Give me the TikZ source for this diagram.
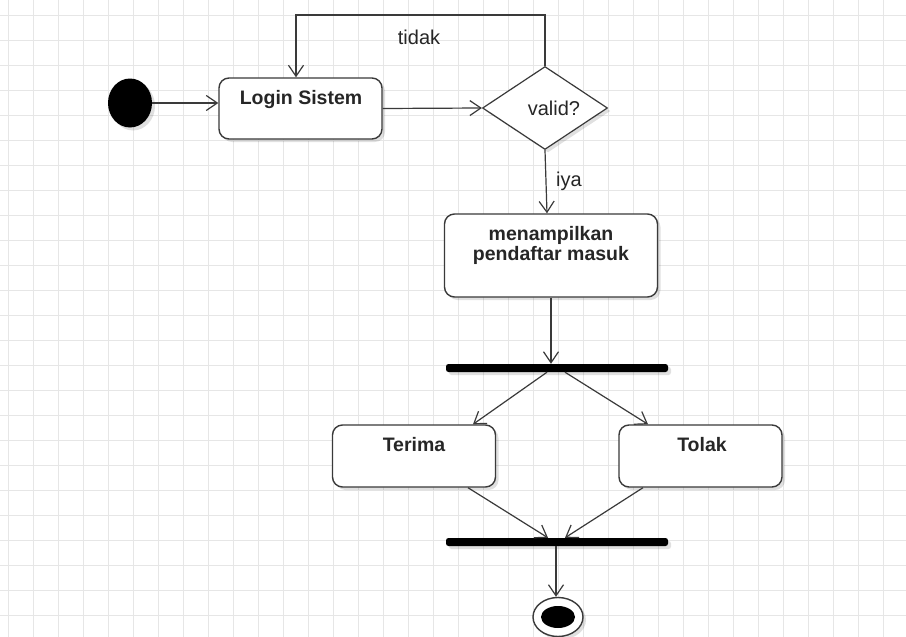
\documentclass[tikz,border=0pt]{standalone}
\usepackage{fontspec}
\setmainfont{Liberation Sans}
\usetikzlibrary{arrows.meta,shapes.geometric,shadows}
\definecolor{gridc}{HTML}{E6E6E6}
\definecolor{linec}{HTML}{3A3A3A}
\definecolor{txtc}{HTML}{262626}
\tikzset{
  gridline/.style={draw=gridc, line width=0.9pt},
  shad/.style={drop shadow={shadow xshift=3pt, shadow yshift=-3pt, fill=black, opacity=0.12}},
  actbox/.style={draw=linec, line width=1.4pt, rounded corners=10pt, fill=white, inner sep=0pt, shad},
  bartype/.style={fill=black, rounded corners=2.5pt, minimum width=222pt, minimum height=8pt, inner sep=0pt, shad},
  conn/.style={draw=linec, line width=1.2pt, -{Straight Barb[length=11pt,width=15pt,line width=1.2pt]}},
  boldtxt/.style={text=txtc, font=\bfseries\fontsize{19.5}{20}\selectfont, inner sep=0pt, align=center},
  regtxt/.style={text=txtc, font=\fontsize{20}{22}\selectfont, inner sep=0pt},
}
\begin{document}
\begin{tikzpicture}[x=1pt,y=-1pt]
\useasboundingbox (0,0) rectangle (906,637);
\fill[white] (0,0) rectangle (906,637);
% grid
\foreach \i in {0,...,36} \draw[gridline] (8+25*\i,0) -- (8+25*\i,637);
\foreach \j in {0,...,25} \draw[gridline] (0,-10+25*\j) -- (906,-10+25*\j);

% nodes
\node[ellipse, fill=black, minimum width=44pt, minimum height=49pt, inner sep=0pt, shad] (start) at (130,103) {};
\node[actbox, minimum width=163pt, minimum height=61pt] (login) at (300.5,108.5) {};
\node[boldtxt, anchor=base] (tlogin) at (301,104) {Login Sistem};
\node[diamond, draw=linec, line width=1.2pt, fill=white, minimum width=125pt, minimum height=83pt, inner sep=0pt, shad] (dec) at (545,108) {};
\node[regtxt, anchor=base] (tvalid) at (554,115) {valid?};
\node[actbox, minimum width=213pt, minimum height=83pt] (disp) at (551,255.5) {};
\node[boldtxt] (tdisp) at (551,245) {menampilkan\\pendaftar masuk};
\node[bartype] (fork) at (557,368) {};
\node[actbox, minimum width=163pt, minimum height=62pt] (terima) at (414,456) {};
\node[boldtxt, anchor=base] (tterima) at (414,451) {Terima};
\node[actbox, minimum width=163pt, minimum height=62pt] (tolak) at (700.5,456) {};
\node[boldtxt, anchor=base] (ttolak) at (702,451) {Tolak};
\node[bartype] (join) at (557,542) {};
\node[ellipse, draw=linec, line width=1.4pt, fill=white, minimum width=50pt, minimum height=39pt, inner sep=0pt, shad] (end) at (558,617) {};
\node[ellipse, fill=black, minimum width=34pt, minimum height=22pt, inner sep=0pt] (endin) at (end) {};

% connectors
\draw[conn] (start.east) -- (start.east -| login.west);
\draw[conn] (login.east) -- (dec.west);
\coordinate (loopc) at (296,15);
\draw[conn] (dec.north) |- (loopc) -- (loopc |- login.north);
\node[regtxt, anchor=base] (ttidak) at (419,45) {tidak};
\draw[conn] (dec.south) -- ([xshift=2pt]dec.south |- disp.north);
\node[regtxt, anchor=west] (tiya) at (556,181) {iya};
\draw[conn] (disp.south) -- (disp.south |- fork.north);
\draw[conn] ([xshift=-10pt]fork.south) -- ([xshift=59pt]terima.north);
\draw[conn] ([xshift=8pt]fork.south) -- ([xshift=-52.5pt]tolak.north);
\draw[conn] ([xshift=54pt]terima.south) -- ([xshift=-9pt]join.north);
\draw[conn] ([xshift=-57.5pt]tolak.south) -- ([xshift=8pt]join.north);
\draw[conn] ([xshift=-1pt]join.south) -- ([xshift=-1pt]join.south |- end.north);
\end{tikzpicture}
\end{document}
